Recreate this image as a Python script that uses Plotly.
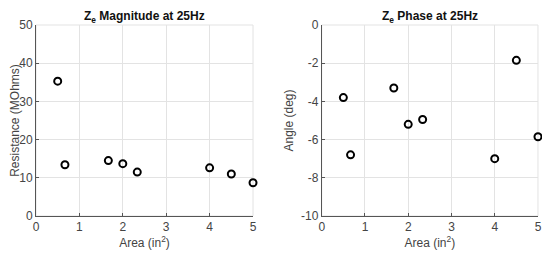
import plotly.graph_objects as go
from plotly.subplots import make_subplots

area = [0.5, 0.667, 1.667, 2.0, 2.333, 4.0, 4.5, 5.0]
magnitude = [35.3, 13.4, 14.5, 13.7, 11.5, 12.6, 11.0, 8.7]
phase = [-3.8, -6.8, -3.3, -5.2, -4.95, -7.0, -1.85, -5.85]

mag_ticks = [0, 10, 20, 30, 40, 50]
phase_ticks = [-10, -8, -6, -4, -2, 0]
phase_labels = ['-10', '-8', '-6', '-4', '-2', '0']

fig = make_subplots(rows=1, cols=2)

marker = dict(symbol='circle-open', size=7, color='black', line=dict(width=2, color='black'))
fig.add_trace(go.Scatter(x=area, y=magnitude, mode='markers', marker=marker, cliponaxis=False), row=1, col=1)
fig.add_trace(go.Scatter(x=area, y=phase, mode='markers', marker=marker, cliponaxis=False), row=1, col=2)

# page body has an 8px margin, domains compensate for it
left_dom = [0.0509, 0.4455]
right_dom = [0.5704, 0.9636]
y_dom = [0.1907, 0.9339]

font = dict(family='Liberation Sans, Arial', size=11, color='#333')
fig.update_layout(
    width=550, height=257,
    margin=dict(l=0, r=0, t=0, b=0),
    plot_bgcolor='white', paper_bgcolor='white',
    showlegend=False,
    font=font,
    xaxis=dict(domain=left_dom),
    xaxis2=dict(domain=right_dom),
    yaxis=dict(domain=y_dom),
    yaxis2=dict(domain=y_dom),
)

axis_style = dict(
    showgrid=True, gridcolor='#e3e3e3', gridwidth=1,
    showline=True, linecolor='#555', linewidth=1,
    ticks='inside', ticklen=3, tickcolor='#555',
    zeroline=False, mirror=False, automargin=False,
    tickfont=dict(size=12, color='#444'),
)
fig.update_xaxes(range=[0, 5], dtick=1, **axis_style)
fig.update_yaxes(**axis_style)
fig.update_yaxes(range=[0, 50], tickvals=mag_ticks, row=1, col=1)
fig.update_yaxes(range=[-10, 0], tickvals=phase_ticks, ticktext=phase_labels, row=1, col=2)

title_font = dict(size=12, color='#444')
fig.update_xaxes(title=dict(text='Area (in<sup>2</sup>)', font=title_font, standoff=3))
fig.update_yaxes(title=dict(text='Resistance (MOhms)', font=title_font, standoff=4), row=1, col=1)
fig.update_yaxes(title=dict(text='Angle (deg)', font=title_font, standoff=4), row=1, col=2)

# top and right box edges drawn as light lines like the grid
for xref, yref in [('x', 'y'), ('x2', 'y2')]:
    fig.add_shape(type='rect', xref=xref + ' domain', yref=yref + ' domain',
                  x0=0, x1=1, y0=0, y1=1, line=dict(color='#e3e3e3', width=1), layer='below')

fig.add_annotation(text='<b>Z<sub>e</sub> Magnitude at 25Hz</b>', xref='paper', yref='paper',
                   x=sum(left_dom) / 2, xanchor='center', y=1.0, yanchor='top',
                   borderpad=0, showarrow=False, font=dict(size=12, color='#111'))
fig.add_annotation(text='<b>Z<sub>e</sub> Phase at 25Hz</b>', xref='paper', yref='paper',
                   x=sum(right_dom) / 2, xanchor='center', y=1.0, yanchor='top',
                   borderpad=0, showarrow=False, font=dict(size=12, color='#111'))

fig.write_html("out.html")
